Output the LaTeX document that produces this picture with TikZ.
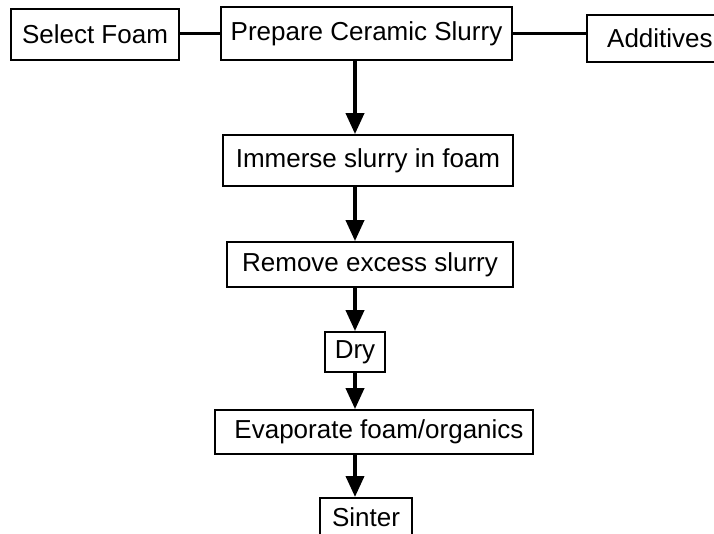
\documentclass[tikz,border=0pt]{standalone}
\usepackage{fontspec}
\setmainfont{Liberation Sans}
\usetikzlibrary{arrows.meta}
\begin{document}
\begin{tikzpicture}[x=1pt,y=-1pt,
  box/.style={draw=black,line width=1.8pt,inner sep=0pt,font=\fontsize{26}{30}\selectfont},
  conn/.style={line width=3.8pt,draw=black},
  arr/.style={conn,-{Triangle[length=21pt,width=18pt]}}]
\useasboundingbox (0,0) rectangle (714,534);
\clip (0,0) rectangle (714,534);
\fill[white] (0,0) rectangle (714,534);
\node[box,minimum width=168pt,minimum height=51pt] (sel) at (95,34.5) {Select Foam};
\node[box,minimum width=291pt,minimum height=53pt] (prep) at (366.5,33.5) {Prepare Ceramic Slurry};
\node[box,minimum width=136pt,minimum height=47pt,anchor=west] (add) at (586,38.5) {\hspace*{10pt}Additives\hfill};
\node[box,minimum width=290pt,minimum height=51pt] (imm) at (368,160.5) {Immerse slurry in foam};
\node[box,minimum width=286pt,minimum height=45pt] (rem) at (370,264.5) {Remove excess slurry};
\node[box,minimum width=60pt,minimum height=40pt] (dry) at (355,352) {Dry};
\node[box,minimum width=318pt,minimum height=44pt] (eva) at (374,432) {\hspace*{10pt}Evaporate foam/organics};
\node[box,minimum width=92pt,minimum height=44pt,anchor=north] (sin) at (366,497) {\raisebox{6pt}{Sinter}};
\coordinate (axis) at (355,0);
\draw[conn] (prep.west -| sel.east) -- (prep.west);
\draw[conn] (prep.east) -- (prep.east -| add.west);
\draw[arr] (prep.south -| axis) -- (imm.north -| axis);
\draw[arr] (imm.south -| axis) -- (rem.north -| axis);
\draw[arr] (rem.south -| axis) -- (dry.north -| axis);
\draw[arr] (dry.south -| axis) -- (eva.north -| axis);
\draw[arr] (eva.south -| axis) -- (sin.north -| axis);
\end{tikzpicture}
\end{document}
